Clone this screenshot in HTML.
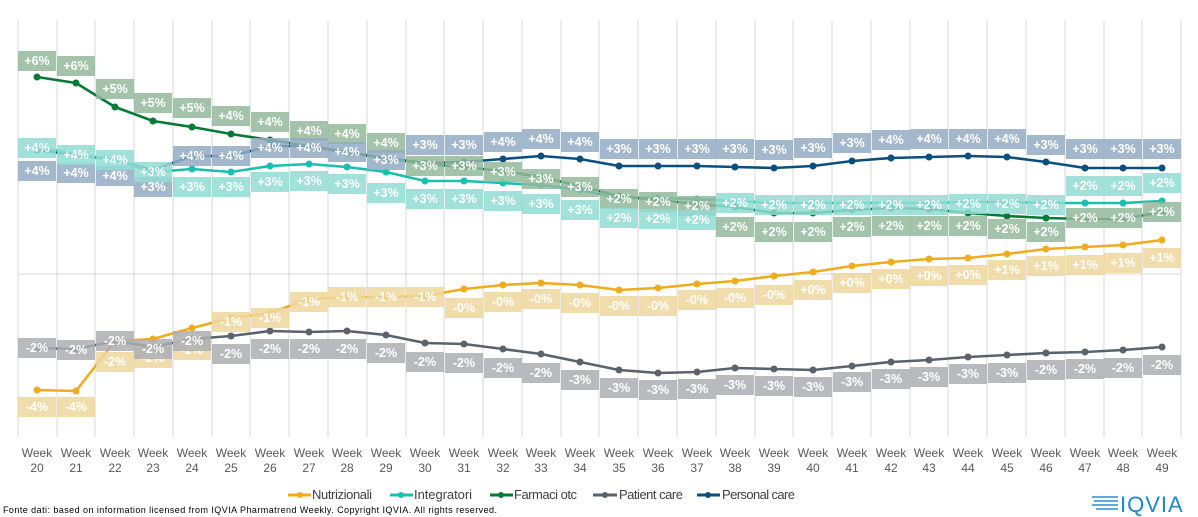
<!DOCTYPE html>
<html><head><meta charset="utf-8"><style>
body{margin:0;background:#fff;}
svg{display:block;font-family:"Liberation Sans",Arial,sans-serif;}
.g rect{fill:#93b99b;fill-opacity:.85}
.t rect{fill:#92dcd3;fill-opacity:.85}
.n rect{fill:#93acc4;fill-opacity:.85}
.y rect{fill:#efd79c;fill-opacity:.85}
.p rect{fill:#abaeb1;fill-opacity:.85}
.lb text{fill:#fff;font-size:12.5px;font-weight:bold;text-anchor:middle}
.ax text{fill:#595959;font-size:12px;text-anchor:middle}
</style></head><body>
<svg width="1198" height="517" viewBox="0 0 1198 517">
<defs>
<marker id="mn" markerWidth="8" markerHeight="8" refX="4" refY="4" markerUnits="userSpaceOnUse"><circle cx="4" cy="4" r="3.5" fill="#0b4f7f"/></marker>
<marker id="mt" markerWidth="8" markerHeight="8" refX="4" refY="4" markerUnits="userSpaceOnUse"><circle cx="4" cy="4" r="3.5" fill="#1bbfb0"/></marker>
<marker id="mg" markerWidth="8" markerHeight="8" refX="4" refY="4" markerUnits="userSpaceOnUse"><circle cx="4" cy="4" r="3.5" fill="#047a35"/></marker>
<marker id="my" markerWidth="8" markerHeight="8" refX="4" refY="4" markerUnits="userSpaceOnUse"><circle cx="4" cy="4" r="3.5" fill="#f0ab1e"/></marker>
<marker id="mp" markerWidth="8" markerHeight="8" refX="4" refY="4" markerUnits="userSpaceOnUse"><circle cx="4" cy="4" r="3.5" fill="#5a636b"/></marker>
</defs>
<g stroke="#d9d9d9" stroke-width="1">
<path d="M18 20V437M57 20V437M95 20V437M134 20V437M173 20V437M212 20V437M250 20V437M289 20V437M328 20V437M367 20V437M406 20V437M444 20V437M483 20V437M522 20V437M561 20V437M599 20V437M638 20V437M677 20V437M716 20V437M755 20V437M793 20V437M832 20V437M871 20V437M910 20V437M948 20V437M987 20V437M1026 20V437M1065 20V437M1104 20V437M1142 20V437M1181 20V437"/>
<path d="M18 274H1181"/>
</g>
<g fill="none" stroke-width="2.6" stroke-linejoin="round">
<polyline stroke="#0b4f7f" marker-start="url(#mn)" marker-mid="url(#mn)" marker-end="url(#mn)" points="37,150 76,155 115,160 153,170 192,156 231,156 270,146 309,146 347,152 386,158 425,163 464,162 503,159 541,156 580,159 619,166 658,166 697,166 735,167 774,168 813,166 852,161 891,158 929,157 968,156 1007,157 1046,162 1085,168 1123,168 1162,168"/>
<polyline stroke="#1bbfb0" marker-start="url(#mt)" marker-mid="url(#mt)" marker-end="url(#mt)" points="37,147 76,154 115,160 153,172 192,169 231,172 270,166 309,164 347,167 386,172 425,181 464,181 503,183 541,185 580,190 619,198 658,198 697,199 735,201 774,203 813,203 852,203 891,203 929,203 968,202 1007,202 1046,203 1085,203 1123,203 1162,201"/>
<polyline stroke="#047a35" marker-start="url(#mg)" marker-mid="url(#mg)" marker-end="url(#mg)" points="37,77 76,83 115,107 153,121 192,127 231,134 270,140 309,146 347,153 386,158 425,164 464,167 503,171 541,177 580,186 619,196 658,200 697,204 735,207 774,213 813,213 852,210 891,208 929,209 968,213 1007,216 1046,218 1085,219 1123,219 1162,212"/>
<polyline stroke="#f0ab1e" marker-start="url(#my)" marker-mid="url(#my)" marker-end="url(#my)" points="37,390 76,391 115,341 153,339 192,328 231,318 270,313 309,299 347,297 386,297 425,296 464,289 503,285 541,283 580,285 619,290 658,288 697,284 735,281 774,276 813,272 852,266 891,262 929,259 968,258 1007,254 1046,249 1085,247 1123,245 1162,240"/>
<polyline stroke="#5a636b" marker-start="url(#mp)" marker-mid="url(#mp)" marker-end="url(#mp)" points="37,348 76,349 115,341 153,347 192,339 231,336 270,331 309,332 347,331 386,335 425,343 464,344 503,349 541,354 580,362 619,370 658,373 697,372 735,368 774,369 813,370 852,366 891,362 929,360 968,357 1007,355 1046,353 1085,352 1123,350 1162,347"/>
</g>
<g class="lb y">
<rect x="18" y="397" width="38" height="20"/><text x="37" y="411">-4%</text>
<rect x="57" y="397" width="38" height="20"/><text x="76" y="411">-4%</text>
<rect x="96" y="352" width="38" height="20"/><text x="115" y="366">-2%</text>
<rect x="134" y="348" width="38" height="20"/><text x="153" y="362">-2%</text>
<rect x="173" y="340" width="38" height="20"/><text x="192" y="354">-2%</text>
<rect x="212" y="312" width="38" height="20"/><text x="231" y="326">-1%</text>
<rect x="251" y="308" width="38" height="20"/><text x="270" y="322">-1%</text>
<rect x="290" y="292" width="38" height="20"/><text x="309" y="306">-1%</text>
<rect x="328" y="287" width="38" height="20"/><text x="347" y="301">-1%</text>
<rect x="367" y="287" width="38" height="20"/><text x="386" y="301">-1%</text>
<rect x="406" y="287" width="38" height="20"/><text x="425" y="301">-1%</text>
<rect x="445" y="298" width="38" height="20"/><text x="464" y="312">-0%</text>
<rect x="484" y="292" width="38" height="20"/><text x="503" y="306">-0%</text>
<rect x="522" y="289" width="38" height="20"/><text x="541" y="303">-0%</text>
<rect x="561" y="293" width="38" height="20"/><text x="580" y="307">-0%</text>
<rect x="600" y="296" width="38" height="20"/><text x="619" y="310">-0%</text>
<rect x="639" y="296" width="38" height="20"/><text x="658" y="310">-0%</text>
<rect x="678" y="290" width="38" height="20"/><text x="697" y="304">-0%</text>
<rect x="716" y="288" width="38" height="20"/><text x="735" y="302">-0%</text>
<rect x="755" y="285" width="38" height="20"/><text x="774" y="299">-0%</text>
<rect x="794" y="280" width="38" height="20"/><text x="813" y="294">+0%</text>
<rect x="833" y="273" width="38" height="20"/><text x="852" y="287">+0%</text>
<rect x="872" y="269" width="38" height="20"/><text x="891" y="283">+0%</text>
<rect x="910" y="266" width="38" height="20"/><text x="929" y="280">+0%</text>
<rect x="949" y="265" width="38" height="20"/><text x="968" y="279">+0%</text>
<rect x="988" y="260" width="38" height="20"/><text x="1007" y="274">+1%</text>
<rect x="1027" y="256" width="38" height="20"/><text x="1046" y="270">+1%</text>
<rect x="1066" y="255" width="38" height="20"/><text x="1085" y="269">+1%</text>
<rect x="1104" y="253" width="38" height="20"/><text x="1123" y="267">+1%</text>
<rect x="1143" y="248" width="38" height="20"/><text x="1162" y="262">+1%</text>
</g>
<g class="lb p">
<rect x="18" y="338" width="38" height="20"/><text x="37" y="352">-2%</text>
<rect x="57" y="340" width="38" height="20"/><text x="76" y="354">-2%</text>
<rect x="96" y="331" width="38" height="20"/><text x="115" y="345">-2%</text>
<rect x="134" y="339" width="38" height="20"/><text x="153" y="353">-2%</text>
<rect x="173" y="331" width="38" height="20"/><text x="192" y="345">-2%</text>
<rect x="212" y="344" width="38" height="20"/><text x="231" y="358">-2%</text>
<rect x="251" y="339" width="38" height="20"/><text x="270" y="353">-2%</text>
<rect x="290" y="339" width="38" height="20"/><text x="309" y="353">-2%</text>
<rect x="328" y="339" width="38" height="20"/><text x="347" y="353">-2%</text>
<rect x="367" y="343" width="38" height="20"/><text x="386" y="357">-2%</text>
<rect x="406" y="352" width="38" height="20"/><text x="425" y="366">-2%</text>
<rect x="445" y="353" width="38" height="20"/><text x="464" y="367">-2%</text>
<rect x="484" y="358" width="38" height="20"/><text x="503" y="372">-2%</text>
<rect x="522" y="363" width="38" height="20"/><text x="541" y="377">-2%</text>
<rect x="561" y="370" width="38" height="20"/><text x="580" y="384">-3%</text>
<rect x="600" y="378" width="38" height="20"/><text x="619" y="392">-3%</text>
<rect x="639" y="380" width="38" height="20"/><text x="658" y="394">-3%</text>
<rect x="678" y="379" width="38" height="20"/><text x="697" y="393">-3%</text>
<rect x="716" y="375" width="38" height="20"/><text x="735" y="389">-3%</text>
<rect x="755" y="376" width="38" height="20"/><text x="774" y="390">-3%</text>
<rect x="794" y="377" width="38" height="20"/><text x="813" y="391">-3%</text>
<rect x="833" y="372" width="38" height="20"/><text x="852" y="386">-3%</text>
<rect x="872" y="369" width="38" height="20"/><text x="891" y="383">-3%</text>
<rect x="910" y="367" width="38" height="20"/><text x="929" y="381">-3%</text>
<rect x="949" y="364" width="38" height="20"/><text x="968" y="378">-3%</text>
<rect x="988" y="363" width="38" height="20"/><text x="1007" y="377">-3%</text>
<rect x="1027" y="360" width="38" height="20"/><text x="1046" y="374">-2%</text>
<rect x="1066" y="359" width="38" height="20"/><text x="1085" y="373">-2%</text>
<rect x="1104" y="358" width="38" height="20"/><text x="1123" y="372">-2%</text>
<rect x="1143" y="355" width="38" height="20"/><text x="1162" y="369">-2%</text>
</g>
<g class="lb g">
<rect x="18" y="51" width="38" height="20"/><text x="37" y="65">+6%</text>
<rect x="57" y="56" width="38" height="20"/><text x="76" y="70">+6%</text>
<rect x="96" y="79" width="38" height="20"/><text x="115" y="93">+5%</text>
<rect x="134" y="93" width="38" height="20"/><text x="153" y="107">+5%</text>
<rect x="173" y="98" width="38" height="20"/><text x="192" y="112">+5%</text>
<rect x="212" y="106" width="38" height="20"/><text x="231" y="120">+4%</text>
<rect x="251" y="112" width="38" height="20"/><text x="270" y="126">+4%</text>
<rect x="290" y="121" width="38" height="20"/><text x="309" y="135">+4%</text>
<rect x="328" y="124" width="38" height="20"/><text x="347" y="138">+4%</text>
<rect x="367" y="133" width="38" height="20"/><text x="386" y="147">+4%</text>
<rect x="406" y="156" width="38" height="20"/><text x="425" y="170">+3%</text>
<rect x="445" y="156" width="38" height="20"/><text x="464" y="170">+3%</text>
<rect x="484" y="162" width="38" height="20"/><text x="503" y="176">+3%</text>
<rect x="522" y="169" width="38" height="20"/><text x="541" y="183">+3%</text>
<rect x="561" y="177" width="38" height="20"/><text x="580" y="191">+3%</text>
<rect x="600" y="189" width="38" height="20"/><text x="619" y="203">+2%</text>
<rect x="639" y="192" width="38" height="20"/><text x="658" y="206">+2%</text>
<rect x="678" y="196" width="38" height="20"/><text x="697" y="210">+2%</text>
<rect x="716" y="217" width="38" height="20"/><text x="735" y="231">+2%</text>
<rect x="755" y="222" width="38" height="20"/><text x="774" y="236">+2%</text>
<rect x="794" y="222" width="38" height="20"/><text x="813" y="236">+2%</text>
<rect x="833" y="217" width="38" height="20"/><text x="852" y="231">+2%</text>
<rect x="872" y="216" width="38" height="20"/><text x="891" y="230">+2%</text>
<rect x="910" y="216" width="38" height="20"/><text x="929" y="230">+2%</text>
<rect x="949" y="216" width="38" height="20"/><text x="968" y="230">+2%</text>
<rect x="988" y="219" width="38" height="20"/><text x="1007" y="233">+2%</text>
<rect x="1027" y="222" width="38" height="20"/><text x="1046" y="236">+2%</text>
<rect x="1066" y="208" width="38" height="20"/><text x="1085" y="222">+2%</text>
<rect x="1104" y="208" width="38" height="20"/><text x="1123" y="222">+2%</text>
<rect x="1143" y="202" width="38" height="20"/><text x="1162" y="216">+2%</text>
</g>
<g class="lb n">
<rect x="18" y="161" width="38" height="20"/><text x="37" y="175">+4%</text>
<rect x="57" y="163" width="38" height="20"/><text x="76" y="177">+4%</text>
<rect x="96" y="166" width="38" height="20"/><text x="115" y="180">+4%</text>
<rect x="134" y="177" width="38" height="20"/><text x="153" y="191">+3%</text>
<rect x="173" y="146" width="38" height="20"/><text x="192" y="160">+4%</text>
<rect x="212" y="146" width="38" height="20"/><text x="231" y="160">+4%</text>
<rect x="251" y="138" width="38" height="20"/><text x="270" y="152">+4%</text>
<rect x="290" y="138" width="38" height="20"/><text x="309" y="152">+4%</text>
<rect x="328" y="142" width="38" height="20"/><text x="347" y="156">+4%</text>
<rect x="367" y="150" width="38" height="20"/><text x="386" y="164">+3%</text>
<rect x="406" y="135" width="38" height="20"/><text x="425" y="149">+3%</text>
<rect x="445" y="135" width="38" height="20"/><text x="464" y="149">+3%</text>
<rect x="484" y="132" width="38" height="20"/><text x="503" y="146">+4%</text>
<rect x="522" y="129" width="38" height="20"/><text x="541" y="143">+4%</text>
<rect x="561" y="132" width="38" height="20"/><text x="580" y="146">+4%</text>
<rect x="600" y="139" width="38" height="20"/><text x="619" y="153">+3%</text>
<rect x="639" y="139" width="38" height="20"/><text x="658" y="153">+3%</text>
<rect x="678" y="139" width="38" height="20"/><text x="697" y="153">+3%</text>
<rect x="716" y="139" width="38" height="20"/><text x="735" y="153">+3%</text>
<rect x="755" y="140" width="38" height="20"/><text x="774" y="154">+3%</text>
<rect x="794" y="138" width="38" height="20"/><text x="813" y="152">+3%</text>
<rect x="833" y="133" width="38" height="20"/><text x="852" y="147">+3%</text>
<rect x="872" y="130" width="38" height="20"/><text x="891" y="144">+4%</text>
<rect x="910" y="129" width="38" height="20"/><text x="929" y="143">+4%</text>
<rect x="949" y="129" width="38" height="20"/><text x="968" y="143">+4%</text>
<rect x="988" y="129" width="38" height="20"/><text x="1007" y="143">+4%</text>
<rect x="1027" y="135" width="38" height="20"/><text x="1046" y="149">+3%</text>
<rect x="1066" y="139" width="38" height="20"/><text x="1085" y="153">+3%</text>
<rect x="1104" y="139" width="38" height="20"/><text x="1123" y="153">+3%</text>
<rect x="1143" y="139" width="38" height="20"/><text x="1162" y="153">+3%</text>
</g>
<g class="lb t">
<rect x="18" y="138" width="38" height="20"/><text x="37" y="152">+4%</text>
<rect x="57" y="145" width="38" height="20"/><text x="76" y="159">+4%</text>
<rect x="96" y="150" width="38" height="20"/><text x="115" y="164">+4%</text>
<rect x="134" y="162" width="38" height="20"/><text x="153" y="176">+3%</text>
<rect x="173" y="177" width="38" height="20"/><text x="192" y="191">+3%</text>
<rect x="212" y="177" width="38" height="20"/><text x="231" y="191">+3%</text>
<rect x="251" y="172" width="38" height="20"/><text x="270" y="186">+3%</text>
<rect x="290" y="171" width="38" height="20"/><text x="309" y="185">+3%</text>
<rect x="328" y="174" width="38" height="20"/><text x="347" y="188">+3%</text>
<rect x="367" y="183" width="38" height="20"/><text x="386" y="197">+3%</text>
<rect x="406" y="189" width="38" height="20"/><text x="425" y="203">+3%</text>
<rect x="445" y="189" width="38" height="20"/><text x="464" y="203">+3%</text>
<rect x="484" y="191" width="38" height="20"/><text x="503" y="205">+3%</text>
<rect x="522" y="194" width="38" height="20"/><text x="541" y="208">+3%</text>
<rect x="561" y="200" width="38" height="20"/><text x="580" y="214">+3%</text>
<rect x="600" y="208" width="38" height="20"/><text x="619" y="222">+2%</text>
<rect x="639" y="209" width="38" height="20"/><text x="658" y="223">+2%</text>
<rect x="678" y="210" width="38" height="20"/><text x="697" y="224">+2%</text>
<rect x="716" y="193" width="38" height="20"/><text x="735" y="207">+2%</text>
<rect x="755" y="195" width="38" height="20"/><text x="774" y="209">+2%</text>
<rect x="794" y="195" width="38" height="20"/><text x="813" y="209">+2%</text>
<rect x="833" y="195" width="38" height="20"/><text x="852" y="209">+2%</text>
<rect x="872" y="195" width="38" height="20"/><text x="891" y="209">+2%</text>
<rect x="910" y="195" width="38" height="20"/><text x="929" y="209">+2%</text>
<rect x="949" y="194" width="38" height="20"/><text x="968" y="208">+2%</text>
<rect x="988" y="194" width="38" height="20"/><text x="1007" y="208">+2%</text>
<rect x="1027" y="195" width="38" height="20"/><text x="1046" y="209">+2%</text>
<rect x="1066" y="176" width="38" height="20"/><text x="1085" y="190">+2%</text>
<rect x="1104" y="176" width="38" height="20"/><text x="1123" y="190">+2%</text>
<rect x="1143" y="173" width="38" height="20"/><text x="1162" y="187">+2%</text>
</g>
<g class="ax">
<text x="37" y="457">Week</text><text x="37" y="472">20</text>
<text x="76" y="457">Week</text><text x="76" y="472">21</text>
<text x="115" y="457">Week</text><text x="115" y="472">22</text>
<text x="153" y="457">Week</text><text x="153" y="472">23</text>
<text x="192" y="457">Week</text><text x="192" y="472">24</text>
<text x="231" y="457">Week</text><text x="231" y="472">25</text>
<text x="270" y="457">Week</text><text x="270" y="472">26</text>
<text x="309" y="457">Week</text><text x="309" y="472">27</text>
<text x="347" y="457">Week</text><text x="347" y="472">28</text>
<text x="386" y="457">Week</text><text x="386" y="472">29</text>
<text x="425" y="457">Week</text><text x="425" y="472">30</text>
<text x="464" y="457">Week</text><text x="464" y="472">31</text>
<text x="503" y="457">Week</text><text x="503" y="472">32</text>
<text x="541" y="457">Week</text><text x="541" y="472">33</text>
<text x="580" y="457">Week</text><text x="580" y="472">34</text>
<text x="619" y="457">Week</text><text x="619" y="472">35</text>
<text x="658" y="457">Week</text><text x="658" y="472">36</text>
<text x="697" y="457">Week</text><text x="697" y="472">37</text>
<text x="735" y="457">Week</text><text x="735" y="472">38</text>
<text x="774" y="457">Week</text><text x="774" y="472">39</text>
<text x="813" y="457">Week</text><text x="813" y="472">40</text>
<text x="852" y="457">Week</text><text x="852" y="472">41</text>
<text x="891" y="457">Week</text><text x="891" y="472">42</text>
<text x="929" y="457">Week</text><text x="929" y="472">43</text>
<text x="968" y="457">Week</text><text x="968" y="472">44</text>
<text x="1007" y="457">Week</text><text x="1007" y="472">45</text>
<text x="1046" y="457">Week</text><text x="1046" y="472">46</text>
<text x="1085" y="457">Week</text><text x="1085" y="472">47</text>
<text x="1123" y="457">Week</text><text x="1123" y="472">48</text>
<text x="1162" y="457">Week</text><text x="1162" y="472">49</text>
</g>
<g stroke-width="3">
<path d="M288 495H311" stroke="#f0ab1e"/><circle cx="300" cy="495" r="3" fill="#f0ab1e"/>
<path d="M390 495H413" stroke="#1bbfb0"/><circle cx="401" cy="495" r="3" fill="#1bbfb0"/>
<path d="M490 495H513" stroke="#047a35"/><circle cx="501" cy="495" r="3" fill="#047a35"/>
<path d="M593 495H617" stroke="#5a636b"/><circle cx="605" cy="495" r="3" fill="#5a636b"/>
<path d="M697 495H720" stroke="#0b4f7f"/><circle cx="708" cy="495" r="3" fill="#0b4f7f"/>
</g>
<g fill="#404040" font-size="13">
<text x="312" y="499" textLength="60">Nutrizionali</text>
<text x="414" y="499" textLength="58">Integratori</text>
<text x="514" y="499" textLength="63">Farmaci otc</text>
<text x="619" y="499" textLength="64">Patient care</text>
<text x="722" y="499" textLength="73">Personal care</text>
</g>
<text x="3" y="513" font-size="9" fill="#000" textLength="494">Fonte dati: based on information licensed from IQVIA Pharmatrend Weekly. Copyright IQVIA. All rights reserved.</text>
<g stroke="#2a8fd0" stroke-width="1.5">
<path d="M1092 497H1118M1094 501H1118M1092 505H1118M1096 509H1118"/>
</g>
<text x="1120" y="512" font-size="22" fill="#1e88c8" letter-spacing="1">IQVIA</text>
</svg>
</body></html>
